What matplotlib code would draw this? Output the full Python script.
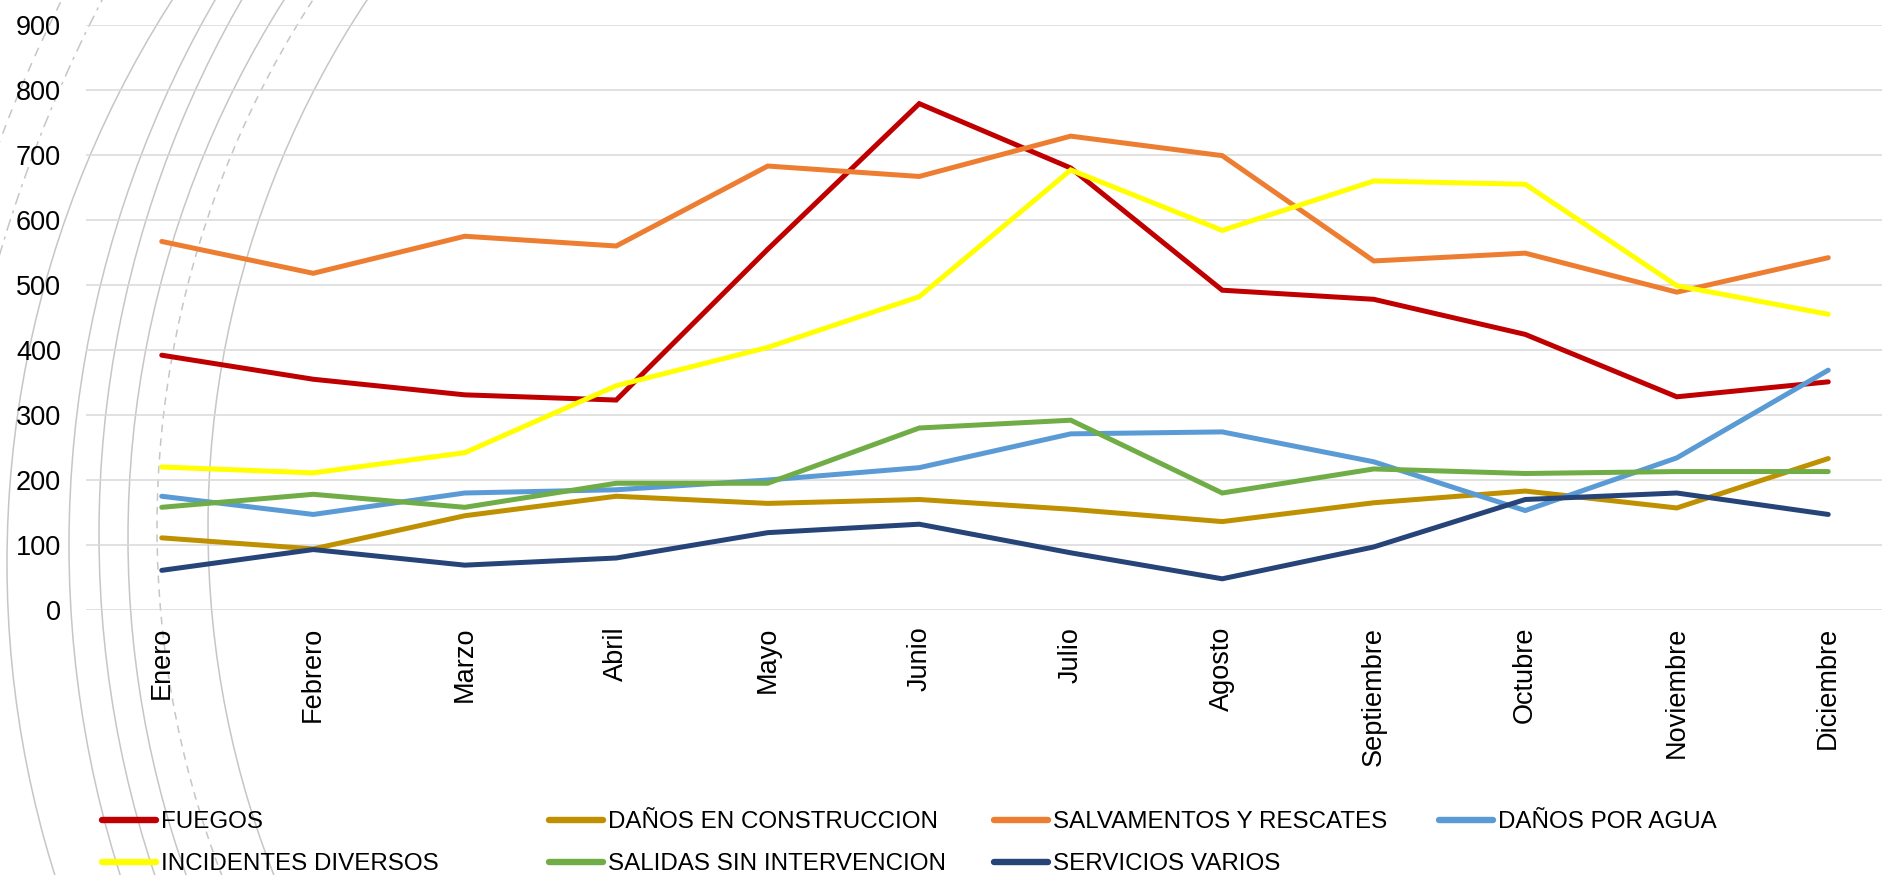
import numpy as np
import matplotlib
matplotlib.use('Agg')
import matplotlib.pyplot as plt
from matplotlib.patches import Circle

plt.rcParams['font.family'] = ['Liberation Sans', 'DejaVu Sans']

###############################################################################
# Data
###############################################################################
meses = ['Enero', 'Febrero', 'Marzo', 'Abril', 'Mayo', 'Junio', 'Julio',
         'Agosto', 'Septiembre', 'Octubre', 'Noviembre', 'Diciembre']
fuegos = [392, 355, 331, 323, 555, 779, 680, 492, 478, 424, 328, 351]
danosConstruccion = [111, 94, 145, 175, 164, 170, 155, 136, 165, 183, 157, 233]
salvamentos = [567, 518, 575, 560, 683, 667, 729, 699, 537, 549, 489, 542]
danosAgua = [175, 147, 180, 185, 200, 219, 271, 274, 228, 153, 234, 369]
incidentes = [220, 211, 242, 345, 404, 482, 677, 584, 660, 655, 499, 455]
salidas = [158, 178, 158, 195, 195, 280, 292, 180, 217, 210, 213, 213]
servicios = [61, 93, 69, 80, 119, 132, 88, 48, 97, 170, 180, 147]

SERIES = (
    ('FUEGOS', fuegos, '#C00000'),
    ('DAÑOS EN CONSTRUCCION', danosConstruccion, '#BF9000'),
    ('SALVAMENTOS Y RESCATES', salvamentos, '#ED7D31'),
    ('DAÑOS POR AGUA', danosAgua, '#5B9BD5'),
    ('INCIDENTES DIVERSOS', incidentes, '#FFFF00'),
    ('SALIDAS SIN INTERVENCION', salidas, '#70AD47'),
    ('SERVICIOS VARIOS', servicios, '#264478'),
)
# legend columns (row-major order as in the original)
COLS = ((0, 4), (1, 5), (2, 6), (3,))
COLX = (102, 549, 994, 1439)
###############################################################################
# Figure
###############################################################################
(W, H) = (1883, 875)
fig = plt.figure(figsize=(W/100, H/100), dpi=100)
# decorative arcs in pixel space
bg = fig.add_axes([0, 0, 1, 1], zorder=0)
bg.set_xlim(0, W)
bg.set_ylim(H, 0)
bg.axis('off')
arcs = (
    (1049, 563, 1042, '-'), (1159, 545, 1090, '-'), (1170, 534, 1071, '-'),
    (1134, 538, 1006, '-'), (1126, 527, 969, (0, (5, 4))),
    (1161, 527, 953, '-'), (1362, 655, 1456, (0, (6, 5))),
    (1362, 655, 1420, (0, (8, 4, 2, 4))),
)
for (cx, cy, r, ls) in arcs:
    bg.add_patch(Circle(
        (cx, cy), r, fill=False, ec='#C6C6C6', lw=1.1, ls=ls
    ))

ax = fig.add_axes([86/W, 1-610/H, 1818/W, 585/H], zorder=1)
ax.patch.set_alpha(0)
x = np.arange(len(meses))
lines = []
for (name, vals, col) in SERIES:
    ln, = ax.plot(
        x, vals, color=col, lw=3.6, label=name,
        solid_capstyle='round', solid_joinstyle='miter'
    )
    lines.append(ln)
ax.set_xlim(-0.5, 11.5)
ax.set_ylim(0, 900)
ax.set_yticks(np.arange(0, 901, 100))
ax.set_xticks(x)
ax.set_xticklabels(meses, rotation=90, fontsize=19.5)
ax.tick_params(axis='y', length=0, pad=18, labelsize=19.5)
ax.tick_params(axis='x', length=0, pad=12)
ax.grid(axis='y', color='#D9D9D9', lw=1.1)
ax.set_axisbelow(True)
for s in ax.spines.values():
    s.set_visible(False)
###############################################################################
# Legend, one block per column
###############################################################################
for (cix, idxs) in enumerate(COLS):
    leg = fig.legend(
        [lines[i] for i in idxs], [SERIES[i][0] for i in idxs],
        loc='upper left', bbox_to_anchor=(COLX[cix]/W, 1-811/H),
        frameon=False, fontsize=17.4, handlelength=2.25, handletextpad=0.2,
        labelspacing=0.84, borderpad=0, borderaxespad=0
    )
    for ln in leg.get_lines():
        ln.set_linewidth(4.6)
        ln.set_solid_capstyle('round')

plt.savefig('out.png', dpi=100, facecolor='#ffffff')
plt.close('all')
